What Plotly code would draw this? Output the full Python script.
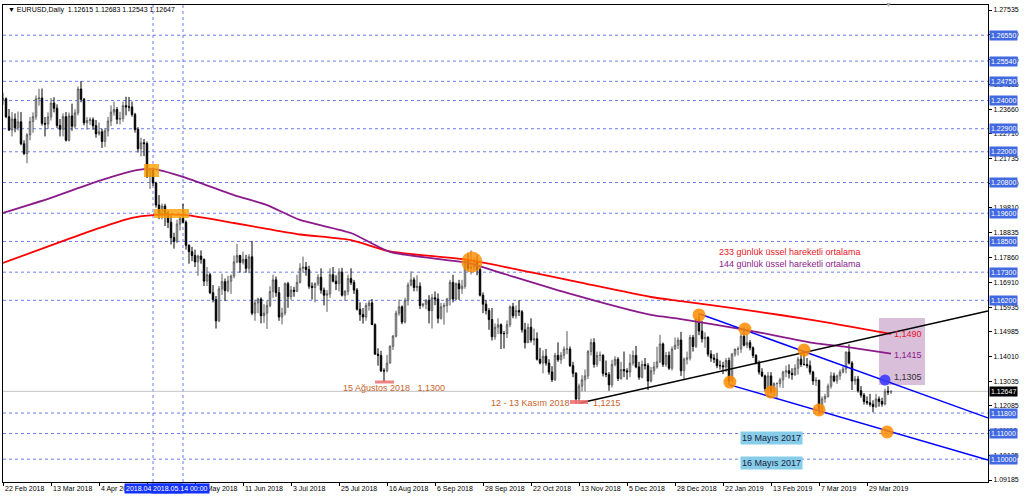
import plotly.graph_objects as go
from datetime import date, timedelta

# ---------------- data ----------------
opens = [
1.2405,1.2407,1.2337,1.2285,1.2328,
1.2294,1.2317,1.2231,1.2193,1.2266,
1.2318,1.2337,1.2407,1.2410,1.2311,
1.2308,1.2336,1.2390,1.2370,1.2303,
1.2288,1.2337,1.2245,1.2340,1.2300,
1.2352,1.2445,1.2405,1.2313,1.2322,
1.2325,1.2302,1.2270,1.2278,1.2240,
1.2282,1.2320,1.2355,1.2365,1.2327,
1.2330,1.2380,1.2375,1.2375,1.2346,
1.2287,1.2212,1.2235,1.2232,1.2103,
1.2130,1.2078,1.1992,1.1952,1.1988,
1.1960,1.1925,1.1865,1.1850,1.1918,
1.1940,1.1925,1.1835,1.1810,1.1795,
1.1770,1.1793,1.1780,1.1695,1.1720,
1.1650,1.1623,1.1540,1.1665,1.1693,
1.1658,1.1695,1.1715,1.1770,1.1795,
1.1768,1.1780,1.1745,1.1790,1.1570,
1.1610,1.1625,1.1560,1.1570,1.1600,
1.1655,1.1700,1.1650,1.1555,1.1570,
1.1685,1.1635,1.1660,1.1655,1.1690,
1.1745,1.1750,1.1740,1.1675,1.1670,
1.1685,1.1710,1.1660,1.1640,1.1645,
1.1720,1.1695,1.1685,1.1730,1.1640,
1.1655,1.1705,1.1690,1.1660,1.1585,
1.1565,1.1555,1.1600,1.1610,1.1525,
1.1410,1.1405,1.1345,1.1345,1.1375,
1.1440,1.1480,1.1570,1.1595,1.1535,
1.1620,1.1680,1.1700,1.1670,1.1675,
1.1600,
1.1605,1.1620,1.1580,1.1630,1.1625,
1.1550,1.1595,1.1600,1.1625,1.1690,
1.1625,1.1685,1.1665,1.1675,1.1775,
1.1745,1.1750,1.1770,1.1740,1.1640,
1.1605,1.1580,1.1545,1.1478,1.1515,
1.1525,1.1490,1.1490,1.1525,1.1595,
1.1560,1.1580,1.1575,1.1505,1.1455,
1.1515,1.1465,1.1470,1.1390,1.1375,
1.1402,1.1375,1.1340,1.1310,1.1405,
1.1388,1.1406,1.1430,1.1430,1.1365,
1.1335,1.1235,1.1285,1.1310,1.1325,
1.1420,1.1455,1.1370,1.1405,1.1405,
1.1335,1.1330,1.1290,1.1370,1.1390,
1.1315,1.1350,1.1345,1.1340,1.1375,
1.1405,1.1360,1.1320,1.1370,1.1365,
1.1305,1.1345,1.1360,1.1380,1.1450,
1.1370,1.1405,1.1355,1.1430,
1.1445,1.1465,1.1345,1.1390,
1.1395,1.1475,1.1440,1.1545,1.1500,
1.1470,1.1475,1.1410,1.1395,1.1390,
1.1365,1.1365,1.1360,1.1385,1.1305,
1.1410,1.1430,1.1430,1.1480,1.1445,
1.1455,1.1435,1.1405,1.1375,1.1340,
1.1325,1.1275,1.1325,1.1265,1.1295,
1.1295,1.1310,1.1340,1.1345,1.1335,
1.1330,1.1355,1.1390,1.1370,1.1370,
1.1365,1.1340,1.1305,1.1308,1.1195,
1.1235,1.1245,1.1285,1.1325,1.1306,
1.1325,1.1340,1.1352,1.1418,1.1375,
1.1305,1.1313,1.1267,1.1250,1.1225,
1.1220,1.1214,1.1205,1.1235,1.1225,
1.1215,1.1265,1.12615,
]
highs = [
1.2431,1.2412,1.2367,1.2355,1.2350,
1.2357,1.2355,1.2245,1.2273,1.2336,
1.2354,1.2420,1.2446,1.2447,1.2336,
1.2354,1.2410,1.2413,1.2385,1.2328,
1.2350,1.2355,1.2353,1.2388,1.2366,
1.2455,1.2476,1.2410,1.2335,1.2335,
1.2334,1.2324,1.2314,1.2290,1.2293,
1.2336,1.2381,1.2396,1.2375,1.2356,
1.2396,1.2415,1.2414,1.2396,1.2352,
1.2296,1.2255,1.2250,1.2240,1.2135,
1.2135,1.2083,1.2031,1.1998,1.1997,
1.1970,1.1955,1.1884,1.1935,1.1954,
1.1996,1.1932,1.1838,1.1829,1.1818,
1.1798,1.1815,1.1783,1.1750,1.1727,
1.1680,1.1637,1.1676,1.1724,1.1705,
1.1716,1.1720,1.1795,1.1840,1.1798,
1.1810,1.1798,1.1800,1.1852,1.1623,
1.1630,1.1632,1.1605,1.1620,1.1675,
1.1720,1.1713,1.1672,1.1591,1.1690,
1.1692,1.1676,1.1673,1.1720,1.1765,
1.1791,1.1770,1.1755,1.1690,1.1690,
1.1722,1.1745,1.1670,1.1660,1.1745,
1.1750,1.1718,1.1745,1.1747,1.1660,
1.1720,1.1745,1.1700,1.1668,1.1612,
1.1590,1.1610,1.1620,1.1625,1.1530,
1.1433,1.1423,1.1355,1.1407,1.1445,
1.1485,1.1580,1.1623,1.1600,1.1630,
1.1690,1.1733,1.1710,1.1718,1.1690,
1.1610,
1.1625,1.1640,1.1645,1.1655,1.1647,
1.1610,1.1610,1.1630,1.1700,1.1720,
1.1690,1.1700,1.1700,1.1780,1.1803,
1.1815,1.1788,1.1797,1.1750,1.1651,
1.1622,1.1590,1.1590,1.1530,1.1550,
1.1530,1.1500,1.1542,1.1600,1.1610,
1.1600,1.1621,1.1582,1.1532,1.1530,
1.1550,1.1510,1.1495,1.1435,1.1425,
1.1430,1.1390,1.1363,1.1415,1.1456,
1.1418,1.1440,1.1500,1.1440,1.1380,
1.1340,1.1295,1.1328,1.1350,1.1426,
1.1470,1.1472,1.1420,1.1420,1.1410,
1.1385,1.1340,1.1388,1.1402,1.1398,
1.1380,1.1420,1.1355,1.1410,1.1424,
1.1442,1.1380,1.1385,1.1395,1.1375,
1.1360,1.1380,1.1439,1.1485,1.1455,
1.1418,1.1420,1.1440,1.1475,
1.1475,1.1497,1.1397,1.1420,
1.1485,1.1485,1.1555,1.1570,1.1540,
1.1495,1.1480,1.1425,1.1410,1.1415,
1.1385,1.1380,1.1395,1.1397,1.1415,
1.1430,1.1440,1.1490,1.1515,1.1488,
1.1465,1.1440,1.1410,1.1385,1.1355,
1.1330,1.1340,1.1340,1.1300,1.1300,
1.1318,1.1345,1.1365,1.1370,1.1355,
1.1370,1.1400,1.1410,1.1420,1.1395,
1.1385,1.1345,1.1320,1.1310,1.1245,
1.1255,1.1295,1.1340,1.1338,1.1330,
1.1350,1.1365,1.1420,1.1448,1.1383,
1.1325,1.1325,1.1285,1.1258,1.1245,
1.1255,1.1230,1.1255,1.1245,1.1240,
1.1275,1.1285,1.12683,
]
lows = [
1.2384,1.2331,1.2281,1.2260,1.2276,
1.2283,1.2225,1.2187,1.2155,1.2245,
1.2274,1.2325,1.2380,1.2302,1.2260,
1.2289,1.2322,1.2354,1.2293,1.2260,
1.2260,1.2240,1.2240,1.2282,1.2291,
1.2342,1.2393,1.2303,1.2286,1.2305,
1.2286,1.2255,1.2263,1.2215,1.2219,
1.2260,1.2300,1.2341,1.2308,1.2307,
1.2317,1.2342,1.2358,1.2337,1.2275,
1.2197,1.2182,1.2183,1.2097,1.2055,
1.2067,1.1982,1.1937,1.1936,1.1910,
1.1902,1.1838,1.1822,1.1843,1.1893,
1.1922,1.1818,1.1763,1.1773,1.1750,
1.1716,1.1763,1.1676,1.1676,1.1644,
1.1612,1.1510,1.1535,1.1641,1.1617,
1.1651,1.1645,1.1706,1.1765,1.1728,
1.1760,1.1728,1.1726,1.1562,1.1540,
1.1570,1.1530,1.1532,1.1508,1.1593,
1.1630,1.1634,1.1540,1.1526,1.1561,
1.1591,1.1622,1.1634,1.1653,1.1686,
1.1728,1.1716,1.1665,1.1623,1.1612,
1.1676,1.1646,1.1600,1.1575,1.1630,
1.1690,1.1660,1.1655,1.1635,1.1617,
1.1640,1.1680,1.1645,1.1580,1.1540,
1.1529,1.1540,1.1580,1.1524,1.1408,
1.1365,1.1340,1.1300,1.1339,1.1374,
1.1426,1.1475,1.1560,1.1527,1.1530,
1.1600,1.1675,1.1655,1.1655,1.1586,
1.1592,
1.1585,1.1530,1.1510,1.1601,1.1530,
1.1545,1.1525,1.1572,1.1600,1.1612,
1.1620,1.1622,1.1645,1.1665,1.1733,
1.1721,1.1733,1.1718,1.1635,1.1570,
1.1565,1.1505,1.1463,1.1466,1.1488,
1.1430,1.1432,1.1473,1.1515,1.1550,
1.1548,1.1559,1.1494,1.1432,1.1453,
1.1455,1.1445,1.1385,1.1370,1.1335,
1.1365,1.1330,1.1301,1.1305,1.1380,
1.1372,1.1392,1.1410,1.1360,1.1320,
1.1216,1.1215,1.1265,1.1265,1.1313,
1.1405,1.1357,1.1360,1.1382,1.1323,
1.1320,1.1267,1.1280,1.1362,1.1305,
1.1310,1.1320,1.1310,1.1320,1.1365,
1.1355,1.1310,1.1315,1.1350,1.1270,
1.1300,1.1330,1.1353,1.1375,1.1360,
1.1360,1.1348,1.1346,1.1428,
1.1430,1.1325,1.1310,1.1370,
1.1385,1.1420,1.1434,1.1484,1.1455,
1.1435,1.1400,1.1380,1.1375,1.1355,
1.1350,1.1332,1.1340,1.1290,1.1300,
1.1400,1.1405,1.1415,1.1440,1.1433,
1.1425,1.1395,1.1370,1.1330,1.1320,
1.1265,1.1255,1.1255,1.1250,1.1234,
1.1280,1.1278,1.1320,1.1315,1.1310,
1.1325,1.1330,1.1360,1.1365,1.1355,
1.1330,1.1290,1.1286,1.1176,1.1185,
1.1220,1.1240,1.1275,1.1300,1.1294,
1.1310,1.1335,1.1335,1.1370,1.1270,
1.1290,1.1260,1.1240,1.1213,1.1212,
1.1205,1.1183,1.1200,1.1205,1.1205,
1.1210,1.1250,1.12543,
]
closes = [
1.2407,1.2337,1.2285,1.2328,1.2294,
1.2317,1.2231,1.2193,1.2266,1.2318,
1.2337,1.2407,1.2410,1.2311,1.2308,
1.2336,1.2390,1.2370,1.2303,1.2288,
1.2337,1.2245,1.2340,1.2300,1.2352,
1.2445,1.2405,1.2313,1.2322,1.2325,
1.2302,1.2270,1.2278,1.2240,1.2282,
1.2320,1.2355,1.2365,1.2327,1.2330,
1.2380,1.2375,1.2375,1.2346,1.2287,
1.2212,1.2235,1.2232,1.2103,1.2130,
1.2078,1.1992,1.1952,1.1988,1.1960,
1.1925,1.1865,1.1850,1.1918,1.1940,
1.1925,1.1835,1.1810,1.1795,1.1770,
1.1793,1.1780,1.1695,1.1720,1.1650,
1.1623,1.1540,1.1665,1.1693,1.1658,
1.1695,1.1715,1.1770,1.1795,1.1768,
1.1780,1.1745,1.1790,1.1570,1.1610,
1.1625,1.1560,1.1570,1.1600,1.1655,
1.1700,1.1650,1.1555,1.1570,1.1685,
1.1635,1.1660,1.1655,1.1690,1.1745,
1.1750,1.1740,1.1675,1.1670,1.1685,
1.1710,1.1660,1.1640,1.1645,1.1720,
1.1695,1.1685,1.1730,1.1640,1.1655,
1.1705,1.1690,1.1660,1.1585,1.1565,
1.1555,1.1600,1.1610,1.1525,1.1410,
1.1405,1.1345,1.1345,1.1375,1.1440,
1.1480,1.1570,1.1595,1.1535,1.1620,
1.1680,1.1700,1.1670,1.1675,1.1600,
1.1605,
1.1620,1.1580,1.1630,1.1625,1.1550,
1.1595,1.1600,1.1625,1.1690,1.1625,
1.1685,1.1665,1.1675,1.1775,1.1745,
1.1750,1.1770,1.1740,1.1640,1.1605,
1.1580,1.1545,1.1478,1.1515,1.1525,
1.1490,1.1490,1.1525,1.1595,1.1560,
1.1580,1.1575,1.1505,1.1455,1.1515,
1.1465,1.1470,1.1390,1.1375,1.1402,
1.1375,1.1340,1.1310,1.1405,1.1388,
1.1406,1.1430,1.1430,1.1365,1.1335,
1.1235,1.1285,1.1310,1.1325,1.1420,
1.1455,1.1370,1.1405,1.1405,1.1335,
1.1330,1.1290,1.1370,1.1390,1.1315,
1.1350,1.1345,1.1340,1.1375,1.1405,
1.1360,1.1320,1.1370,1.1365,1.1305,
1.1345,1.1360,1.1380,1.1450,1.1370,
1.1405,1.1355,1.1430,1.1445,
1.1465,1.1345,1.1390,1.1395,
1.1475,1.1440,1.1545,1.1500,1.1470,
1.1475,1.1410,1.1395,1.1390,1.1365,
1.1365,1.1360,1.1385,1.1305,1.1410,
1.1430,1.1430,1.1480,1.1445,1.1455,
1.1435,1.1405,1.1375,1.1340,1.1325,
1.1275,1.1325,1.1265,1.1295,1.1295,
1.1310,1.1340,1.1345,1.1335,1.1330,
1.1355,1.1390,1.1370,1.1370,1.1365,
1.1340,1.1305,1.1308,1.1195,1.1235,
1.1245,1.1285,1.1325,1.1306,1.1325,
1.1340,1.1352,1.1418,1.1375,1.1305,
1.1313,1.1267,1.1250,1.1225,1.1220,
1.1214,1.1205,1.1235,1.1225,1.1215,
1.1265,1.1262,1.12647,
]

# exponential moving averages (bar index, price)
ema233_idx = [0, 21, 32, 43, 50, 61, 77, 88, 99, 116, 129, 155, 177, 193, 216, 226, 248, 270, 296]
ema233_val = [1.1766, 1.1856, 1.1902, 1.1942, 1.1953, 1.1953, 1.1922, 1.1899, 1.1877, 1.1855, 1.1811,
              1.1778, 1.1727, 1.1688, 1.1633, 1.1617, 1.1582, 1.1543, 1.1489]
ema144_idx = [0, 16, 32, 45, 50, 60, 77, 88, 99, 116, 129, 155, 166, 188, 216, 226, 248, 270, 281, 296]
ema144_val = [1.1961, 1.2020, 1.2086, 1.2129, 1.2133, 1.2102, 1.2031, 1.1992, 1.1934, 1.1883, 1.1809,
              1.1766, 1.1727, 1.1649, 1.1563, 1.1547, 1.1504, 1.1454, 1.1438, 1.1412]

# trend lines (bar index, price)
support_x = [192.3, 328.3]
support_y = [1.1219, 1.1578]
chan_up_x = [232.3, 328.3]
chan_up_y = [1.1567, 1.1161]
chan_lo_x = [242.3, 328.3]
chan_lo_y = [1.1290, 1.0997]

# highlighted pivots
pivot_x = [232.0, 247.3, 242.3, 256.0, 267.0, 272.0, 294.7]
pivot_y = [1.1563, 1.1508, 1.1301, 1.1262, 1.1426, 1.1192, 1.1106]
big_pivot_x = [156.3]
big_pivot_y = [1.1770]
target_x = [294.0]
target_y = [1.1309]

# price levels
levels = [1.26550, 1.25540, 1.24750, 1.24000, 1.22900, 1.22000, 1.20800, 1.19600,
          1.18500, 1.17300, 1.16200, 1.11800, 1.11000, 1.10000]
last_price = 1.12647
ytick_vals = [1.27535, 1.26560, 1.25585, 1.24635, 1.23660, 1.22710, 1.21735, 1.20760,
              1.19810, 1.18835, 1.17860, 1.16910, 1.15935, 1.14985, 1.14010, 1.13035,
              1.12085, 1.11110, 1.10135, 1.09185]
xtick_dates = ["2018-03-13", "2018-04-04", "2018-04-26", "2018-05-18", "2018-06-11",
               "2018-07-03", "2018-07-25", "2018-08-16", "2018-09-06", "2018-09-28",
               "2018-10-22", "2018-11-13", "2018-12-05", "2018-12-28", "2019-01-22",
               "2019-02-13", "2019-03-07", "2019-03-29"]
xtick_text = ["13 Mar 2018", "4 Apr 2018", "26 Apr 2018", "18 May 2018", "11 Jun 2018",
              "3 Jul 2018", "25 Jul 2018", "16 Aug 2018", "6 Sep 2018", "28 Sep 2018",
              "22 Oct 2018", "13 Nov 2018", "5 Dec 2018", "28 Dec 2018", "22 Jan 2019",
              "13 Feb 2019", "7 Mar 2019", "29 Mar 2019"]

# ---------------- bar dates ----------------
skip = {date(2018, 12, 25), date(2019, 1, 1)}
extra = {date(2018, 9, 2)}
dates = []
d = date(2018, 2, 19)
while d <= date(2019, 4, 10):
    if (d.weekday() < 5 and d not in skip) or d in extra:
        dates.append(d)
    d += timedelta(days=1)
n = min(len(dates), len(closes))
xi = list(range(n))
date_index = {dd.isoformat(): i for i, dd in enumerate(dates)}

# ---------------- geometry helpers (pixel -> axis units) ----------------
PL, PR, PT, PB = 3, 988, 5, 482
YPP = 0.0003904
def px2x(px):
    return (px - PL) / 3.0
def py2y(py):
    return 1.27535 - (py - 10) * YPP

FONT = "Liberation Sans, Arial, sans-serif"

fig = go.Figure()
fig.add_trace(go.Candlestick(
    x=xi, open=opens[:n], high=highs[:n], low=lows[:n], close=closes[:n],
    increasing=dict(line=dict(color="#5a5a5a", width=1), fillcolor="#ffffff"),
    decreasing=dict(line=dict(color="#000000", width=1), fillcolor="#000000"),
    whiskerwidth=0, hoverinfo="skip", showlegend=False))

fig.add_trace(go.Scatter(x=ema233_idx, y=ema233_val, mode="lines",
                         line=dict(color="#ff0000", width=1.8, shape="spline", smoothing=0.6),
                         hoverinfo="skip", showlegend=False))
fig.add_trace(go.Scatter(x=ema144_idx, y=ema144_val, mode="lines",
                         line=dict(color="#8b1a8b", width=1.8, shape="spline", smoothing=0.6),
                         hoverinfo="skip", showlegend=False))
fig.add_trace(go.Scatter(x=support_x, y=support_y, mode="lines",
                         line=dict(color="#000000", width=1.5), hoverinfo="skip", showlegend=False))
fig.add_trace(go.Scatter(x=chan_up_x, y=chan_up_y, mode="lines",
                         line=dict(color="#0000ff", width=1.5), hoverinfo="skip", showlegend=False))
fig.add_trace(go.Scatter(x=chan_lo_x, y=chan_lo_y, mode="lines",
                         line=dict(color="#0000ff", width=1.5), hoverinfo="skip", showlegend=False))
fig.add_trace(go.Scatter(x=pivot_x, y=pivot_y, mode="markers",
                         marker=dict(color="rgba(255,140,0,0.85)", size=13, line=dict(width=0)),
                         hoverinfo="skip", showlegend=False))
fig.add_trace(go.Scatter(x=big_pivot_x, y=big_pivot_y, mode="markers",
                         marker=dict(color="rgba(255,140,0,0.8)", size=21, line=dict(width=0)),
                         hoverinfo="skip", showlegend=False))
fig.add_trace(go.Scatter(x=target_x, y=target_y, mode="markers",
                         marker=dict(color="rgba(60,60,255,0.9)", size=11, line=dict(width=0)),
                         hoverinfo="skip", showlegend=False))

shapes = []
dot = dict(color="#6a7cf2", width=1, dash="dot")
for lv in levels:
    shapes.append(dict(type="line", xref="paper", x0=0, x1=1, yref="y", y0=lv, y1=lv,
                       line=dot, layer="below"))
for vi in (50, 60):
    shapes.append(dict(type="line", xref="x", x0=vi, x1=vi, yref="paper", y0=0, y1=1,
                       line=dot, layer="below"))
shapes.append(dict(type="line", xref="paper", x0=0, x1=1, yref="y", y0=last_price, y1=last_price,
                   line=dict(color="#c4c4c4", width=1), layer="below"))
# shaded value box
shapes.append(dict(type="rect", xref="x", yref="y", x0=px2x(879), x1=px2x(925),
                   y0=py2y(385), y1=py2y(318), fillcolor="rgba(205,170,205,0.75)",
                   line=dict(width=0), layer="below"))
# orange boxes
shapes.append(dict(type="rect", xref="x", yref="y", x0=px2x(144), x1=px2x(159),
                   y0=py2y(177), y1=py2y(164), fillcolor="rgba(255,160,0,0.8)",
                   line=dict(width=0), layer="above"))
shapes.append(dict(type="rect", xref="x", yref="y", x0=px2x(154), x1=px2x(189),
                   y0=py2y(218), y1=py2y(209), fillcolor="rgba(255,160,0,0.8)",
                   line=dict(width=0), layer="above"))
# low markers
shapes.append(dict(type="rect", xref="x", yref="y", x0=px2x(375), x1=px2x(394),
                   y0=py2y(383.5), y1=py2y(380.5), fillcolor="rgba(240,110,110,0.85)",
                   line=dict(width=0), layer="above"))
shapes.append(dict(type="rect", xref="x", yref="y", x0=px2x(570), x1=px2x(588),
                   y0=py2y(404), y1=py2y(400), fillcolor="rgba(240,110,110,0.85)",
                   line=dict(width=0), layer="above"))

ann = []
def txt(px, py, s, color, size=9, xanchor="left", **kw):
    d = dict(xref="x", yref="y", x=px2x(px), y=py2y(py), text=s, showarrow=False,
             xanchor=xanchor, yanchor="middle", font=dict(family=FONT, size=size, color=color))
    d.update(kw)
    ann.append(d)

txt(341, 388, "15 Ağustos 2018&nbsp;&nbsp;&nbsp;1,1300", "#c8642d")
txt(489, 403, "12 - 13 Kasım 2018", "#c8642d")
txt(591, 403, "1,1215", "#c8642d")
txt(717, 252, "233 günlük üssel hareketli ortalama", "#e8141e")
txt(717, 264, "144 günlük üssel hareketli ortalama", "#8b1a8b")
txt(892, 334, "1,1490", "#e8141e")
txt(892, 355, "1,1415", "#8b1a8b")
txt(892, 377, "1,1305", "#333333")
txt(771, 437.5, "19 Mayıs 2017", "#1a2240", xanchor="center", bgcolor="#87cdea", borderpad=1)
txt(771, 462.5, "16 Mayıs 2017", "#1a2240", xanchor="center", bgcolor="#87cdea", borderpad=1)

# header
ann.append(dict(xref="paper", yref="paper", x=(6 - PL) / (PR - PL), y=(PB - 10) / (PB - PT),
                text="▼&nbsp;EURUSD,Daily&nbsp;&nbsp;1.12615 1.12683 1.12543 1.12647",
                showarrow=False, xanchor="left", yanchor="middle",
                font=dict(family=FONT, size=7, color="#000000")))
ann.append(dict(xref="paper", yref="paper", x=(888 - PL) / (PR - PL), y=(PB - 4) / (PB - PT),
                text="▼", showarrow=False, xanchor="center", yanchor="middle",
                font=dict(family=FONT, size=7, color="#a8a8a8")))

# right price-level tags
for lv in levels:
    ann.append(dict(xref="paper", yref="y", x=1, y=lv, xanchor="left", yanchor="middle", xshift=1,
                    text=f"{lv:.5f}", showarrow=False, bgcolor="#4169e1", borderpad=1,
                    font=dict(family=FONT, size=7, color="#ffffff")))
ann.append(dict(xref="paper", yref="y", x=1, y=last_price, xanchor="left", yanchor="middle", xshift=1,
                text=f"{last_price:.5f}", showarrow=False, bgcolor="#000000", borderpad=1,
                font=dict(family=FONT, size=7, color="#ffffff")))

# bottom date labels
tick_idx = [date_index[t] for t in xtick_dates]
ann.append(dict(xref="x", yref="paper", x=0, y=0, xanchor="left", yanchor="top", yshift=-1,
                text="22 Feb 2018", showarrow=False, font=dict(family=FONT, size=7, color="#000000")))
for ti, tt in zip(tick_idx, xtick_text):
    ann.append(dict(xref="x", yref="paper", x=ti, y=0, xanchor="left", yanchor="top", yshift=-1,
                    text=tt, showarrow=False, font=dict(family=FONT, size=7, color="#000000")))
ann.append(dict(xref="x", yref="paper", x=50, y=0, xanchor="center", yanchor="top", yshift=-1,
                text="2018.04.30 00:00", showarrow=False, bgcolor="#1432ff", borderpad=1,
                font=dict(family=FONT, size=7, color="#ffffff")))
ann.append(dict(xref="x", yref="paper", x=px2x(180), y=0, xanchor="center", yanchor="top", yshift=-1,
                text="2018.05.14 00:00", showarrow=False, bgcolor="#1432ff", borderpad=1,
                font=dict(family=FONT, size=7, color="#ffffff")))

fig.update_layout(
    width=1024, height=499,
    margin=dict(l=PL, r=1024 - PR, t=PT, b=499 - PB),
    paper_bgcolor="#ffffff", plot_bgcolor="#ffffff",
    showlegend=False, dragmode=False,
    shapes=shapes, annotations=ann,
    xaxis=dict(range=[px2x(PL), px2x(PR)], showgrid=False, zeroline=False,
               rangeslider=dict(visible=False), showline=True, linecolor="#000000", linewidth=1,
               mirror=True, ticks="outside", ticklen=3, tickcolor="#000000",
               tickvals=[0] + tick_idx, showticklabels=False),
    yaxis=dict(range=[py2y(PB), py2y(PT)], side="right", showgrid=False, zeroline=False,
               showline=True, linecolor="#000000", linewidth=1, mirror=True,
               ticks="outside", ticklen=3, tickcolor="#000000",
               tickvals=ytick_vals, ticktext=[f"{v:.5f}" for v in ytick_vals],
               tickfont=dict(family=FONT, size=7, color="#000000")),
)
fig.write_html("out.html",
               config={"displayModeBar": False, "staticPlot": True},
               post_script="document.body.style.margin='0px';document.body.style.padding='0px';"
                           "document.body.style.overflow='hidden';")
